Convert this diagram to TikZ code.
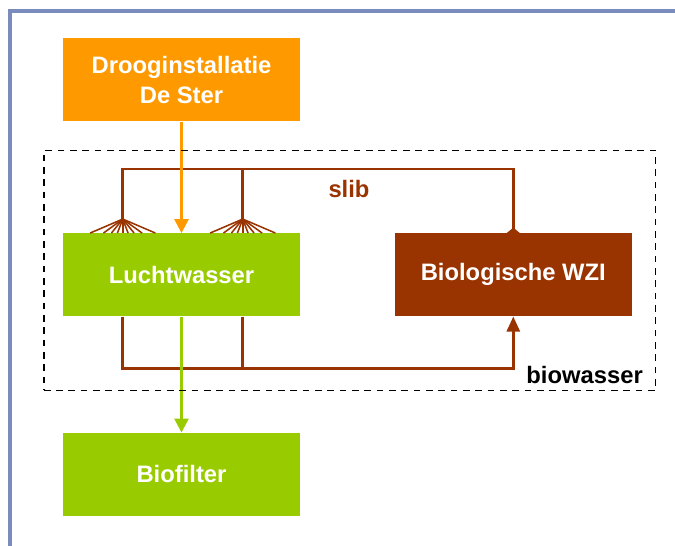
\documentclass[tikz,border=0pt]{standalone}
\usepackage{fontspec}
\setmainfont{Liberation Sans}
\usetikzlibrary{arrows.meta}
\usetikzlibrary{positioning}
\definecolor{droogorange}{HTML}{FF9900}
\definecolor{luchtgreen}{HTML}{99CC00}
\definecolor{slibbrown}{HTML}{993300}
\definecolor{framegray}{HTML}{7A8BBD}
\tikzstyle{block} = [rectangle, text=white, align=center,
font=\bfseries\fontsize{20.3}{25.6}\selectfont,
minimum height=2.49cm, minimum width=7.11cm, inner sep=0pt]
\tikzstyle{point} = [coordinate]
\tikzstyle{pipe} = [draw=slibbrown, line width=0.08cm]
\tikzstyle{spray} = [draw=slibbrown, line width=1.3pt]
\tikzstyle{tag} = [font=\bfseries\fontsize{20.3}{25.6}\selectfont, inner sep=0pt]
\tikzstyle{zone} = [draw, line width=1.4pt, dash pattern=on 0.2cm off 0.17cm,
minimum width=18.35cm, minimum height=7.2cm]

\begin{document}
\begin{tikzpicture}[auto, node distance=2cm, >={Triangle[width=0.42cm,length=0.42cm]}]
		\useasboundingbox (0,0) rectangle (20.25,-16.38);
		\draw [framegray, line width=0.12cm] (0.285,-16.38) -- (0.285,-0.34) -- (20.25,-0.34);
		
		\node [block, fill=droogorange] (droog) at (5.445,-2.4) {Drooginstallatie\\De Ster};
		\node [block, fill=luchtgreen] (lucht) [below=3.34cm of droog] {Luchtwasser};
		\node [block, fill=luchtgreen] (biofilter) [below=3.48cm of lucht] {Biofilter};
		\node [block, fill=slibbrown] (bio) [right=2.83cm of lucht] {Biologische WZI};
		
		% sproeiers boven de luchtwasser
		\node [point] (p1) [right=1.8cm of lucht.north west]{};
		\node [point] (p2) [right=5.4cm of lucht.north west]{};
		\node [point] (a1) [above=0.42cm of p1]{};
		\node [point] (a2) [above=0.42cm of p2]{};
		\node [point] (c1) [above=1.92cm of p1]{};
		\node [point] (c2) [above=1.92cm of p2]{};
		
		\foreach \dx in {-0.98,-0.58,-0.34,-0.16,0,0.16,0.34,0.58,0.98}{
			\draw [spray] (a1) -- ([xshift=\dx cm]p1);
			\draw [spray] (a2) -- ([xshift=\dx cm]p2);
		}
		
		\draw [pipe, {Triangle[reversed,width=0.39cm,length=0.16cm]}-] (bio.north) |- (c1) -- (a1);
		\draw [pipe] (c2) -- (a2);
		\node [tag, text=slibbrown, anchor=base] (slib) at (10.47,-5.92) {slib};
		
		% afvoer naar de biologische WZI
		\node [point] (q1) [right=1.8cm of lucht.south west]{};
		\node [point] (q2) [right=5.4cm of lucht.south west]{};
		\node [point] (d1) [below=1.56cm of q1]{};
		\draw [pipe, -{Triangle[width=0.39cm,length=0.45cm]}] (q1) -- (d1) -| (bio.south);
		\draw [pipe] (q2) -- (q2|-d1);
		
		\draw [->, droogorange, line width=0.08cm] (droog) -- (lucht);
		\draw [->, luchtgreen, line width=0.08cm] (lucht) -- (biofilter);
		
		\node [zone] (zone) at (10.49,-8.115) {};
		\node [tag, anchor=base east] (biowasser) at ([xshift=-0.4cm, yshift=0.22cm]zone.south east) {biowasser};
	\end{tikzpicture}
\end{document}
